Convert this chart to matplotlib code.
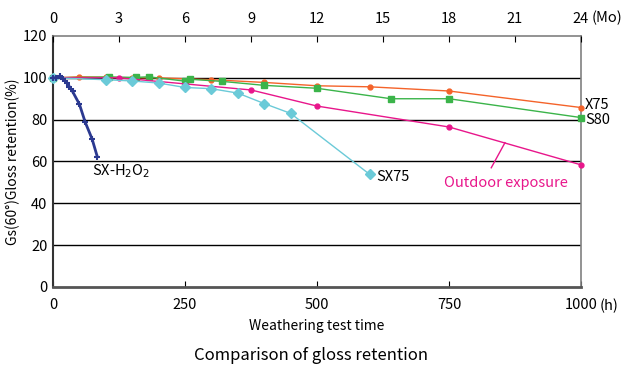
import matplotlib
matplotlib.use('Agg')
import matplotlib.pyplot as plt

plt.rcParams['font.family'] = ['Noto Sans CJK JP', 'DejaVu Sans']

# weathering test time (h) and gloss retention (%)
x75_h = [0, 50, 100, 150, 200, 300, 400, 500, 600, 750, 1000]
x75_v = [100, 100.5, 100.3, 100, 100, 99.1, 97.8, 96.2, 95.7, 93.7, 85.8]

s80_h = [0, 107, 157, 181, 250, 260, 320, 400, 500, 640, 750, 1000]
s80_v = [100, 100.4, 100.2, 100.5, 98.4, 99.3, 98.3, 96.4, 95.0, 90.0, 90.0, 81.0]

outdoor_h = [0, 125, 375, 500, 750, 1000]
outdoor_v = [100, 100, 94.2, 86.5, 76.5, 58.4]

sx75_h = [0, 100, 150, 200, 250, 300, 350, 400, 450, 600]
sx75_v = [100, 99.1, 98.5, 97.5, 95.4, 94.8, 92.7, 87.7, 83.0, 53.8]

h2o2_h = [0, 6, 13, 19, 26, 31, 37, 50, 61, 74, 84]
h2o2_v = [100, 100, 100.8, 99.5, 97.6, 95.8, 93.5, 87.4, 78.8, 70.8, 62.2]

x_ticks = [0, 250, 500, 750, 1000]
mo_ticks = [0, 3, 6, 9, 12, 15, 18, 21, 24]
y_ticks = [0, 20, 40, 60, 80, 100, 120]

fig = plt.figure(figsize=(6.22, 3.65), dpi=100)
ax = fig.add_axes([0.0852, 0.2137, 0.8489, 0.6877])

for y in [20, 40, 60, 80, 100]:
    ax.axhline(y, color='black', lw=1.0, zorder=1)

ax.plot(x75_h, x75_v, color='#F4632A', lw=1.0, marker='o', ms=3.5, zorder=3, clip_on=False)
ax.plot(s80_h, s80_v, color='#3BB44A', lw=1.0, marker='s', ms=4, zorder=3, clip_on=False)
ax.plot(outdoor_h, outdoor_v, color='#E8168B', lw=1.0, marker='o', ms=3.5, zorder=3, clip_on=False)
ax.plot(sx75_h, sx75_v, color='#6BCAD8', lw=1.0, marker='D', ms=5, zorder=3, clip_on=False)
ax.plot(h2o2_h, h2o2_v, color='#2B3990', lw=2.0, marker='+', ms=4, mew=1.5, zorder=4, clip_on=False)

ax.set_xlim(0, 1000)
ax.set_ylim(0, 120)
ax.set_xticks(x_ticks)
ax.set_xticklabels([str(t) for t in x_ticks])
ax.set_yticks(y_ticks)
ax.tick_params(axis='x', direction='in', labelsize=10.5, length=4, pad=8)
ax.tick_params(axis='y', length=0, labelsize=10.5, pad=4)
ax.text(1.036, -0.048, '(h)', transform=ax.transAxes, fontsize=10.5, va='top', ha='left')

for side in ['top', 'right']:
    ax.spines[side].set_color('#808080')
    ax.spines[side].set_linewidth(1.2)
ax.spines['bottom'].set_color('#555555')
ax.spines['bottom'].set_linewidth(2.0)
ax.spines['left'].set_color('#333333')
ax.spines['left'].set_linewidth(1.5)

top = ax.twiny()
top.set_xlim(0, 24)
top.set_xticks(mo_ticks)
top.tick_params(axis='x', direction='in', labelsize=10.5, length=4, pad=7)
for side in ['top', 'right', 'left', 'bottom']:
    top.spines[side].set_visible(False)
top.text(1.02, 1.045, '(Mo)', transform=top.transAxes, fontsize=10.5, va='bottom', ha='left')

ax.set_xlabel('Weathering test time', fontsize=10, labelpad=5)
ax.set_ylabel('Gs(60°)Gloss retention(%)', fontsize=10, labelpad=2)

ax.text(74, 55.5, 'SX-H$_2$O$_2$', fontsize=10.5, va='center', ha='left')
ax.text(612, 52.5, 'SX75', fontsize=10.5, va='center', ha='left')
ax.text(1008, 87, 'X75', fontsize=10.5, va='center', ha='left', clip_on=False)
ax.text(1008, 80, 'S80', fontsize=10.5, va='center', ha='left', clip_on=False)
ax.text(857, 49.5, 'Outdoor exposure', fontsize=10.5, color='#E8168B', va='center', ha='center')
ax.plot([830, 856], [57, 69], color='#E8168B', lw=1.0, zorder=3)

fig.text(0.5, 0.027, 'Comparison of gloss retention', fontsize=12, ha='center', va='center')

fig.savefig('out.png', dpi=100)
